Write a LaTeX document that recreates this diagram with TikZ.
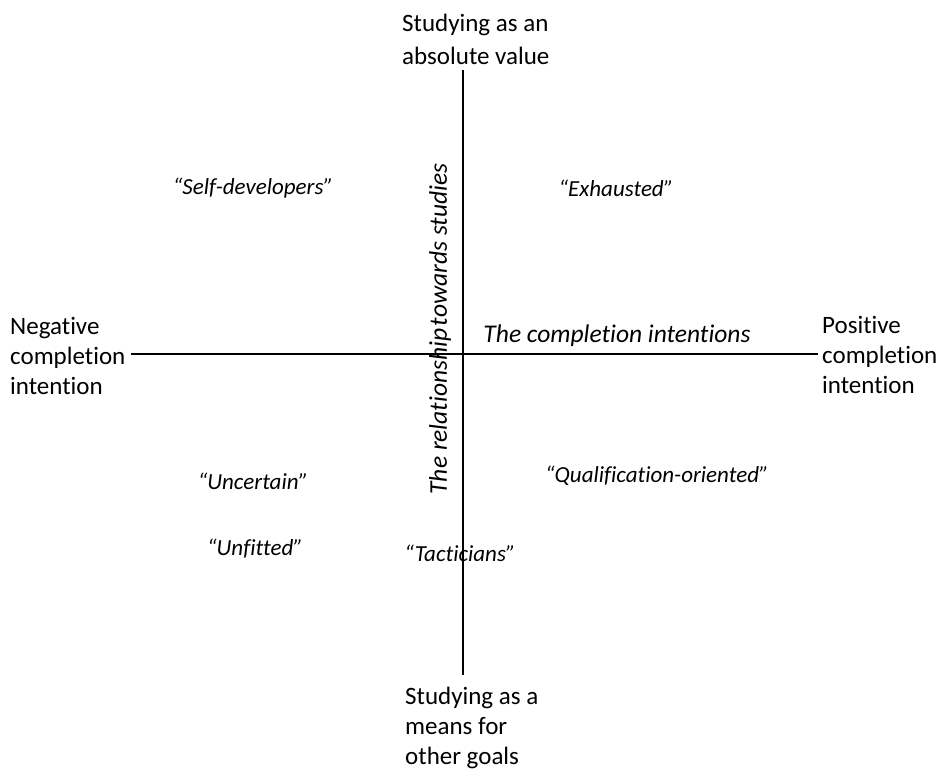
\documentclass[tikz,border=0pt]{standalone}
\usepackage{fontspec}
\setmainfont[Ligatures={NoCommon}]{Carlito}
\begin{document}
\begin{tikzpicture}[x=1pt,y=-1pt,
  lbl/.style={inner sep=0pt,font=\fontsize{25}{30}\selectfont,align=left},
  grp/.style={inner sep=0pt,font=\fontsize{23}{26}\selectfont\itshape},
  axis/.style={line width=1.6pt}]
\useasboundingbox (0,0) rectangle (939,772);
\coordinate (vt) at (463,70);
\coordinate (vb) at (463,675);
\coordinate (hl) at (131,354);
\coordinate (hr) at (818,354);
\draw[axis] (vt) -- (vb);
\draw[axis] (hl) -- (hr);
\node[lbl,anchor=west,font=\fontsize{25}{33}\selectfont] (top) at (402,39) {Studying as an\\absolute value};
\node[lbl,anchor=west] (neg) at (10,356) {Negative\\completion\\intention};
\node[lbl,anchor=west] (pos) at (822,355) {Positive\\completion\\intention};
\node[lbl,anchor=west] (bot) at (405,728) {Studying as a\\means for\\other goals};
\node[grp,font=\fontsize{25.5}{28}\selectfont\itshape] (ci) at (617,336) {The completion intentions};
\node[grp,font=\fontsize{25.5}{28}\selectfont\itshape,rotate=90] (rel) at (440,329) {The relationship\hspace{0.1em}towards studies};
\node[grp] (self) at (253,188) {“Self-developers”};
\node[grp] (exh) at (616,188) {“Exhausted”};
\node[grp] (unc) at (253,481) {“Uncertain”};
\node[grp] (qual) at (657,476) {“Qualification-oriented”};
\node[grp] (unf) at (255,549) {“Unfitted”};
\node[grp] (tac) at (460,553) {“Tacticians”};
\end{tikzpicture}
\end{document}
